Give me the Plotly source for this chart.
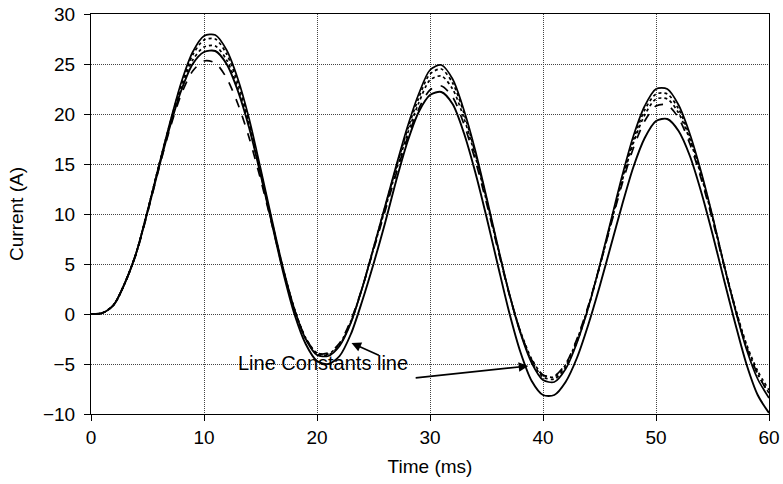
import plotly.graph_objects as go

# Time axis (ms), sampled every 1 ms
time_ms = list(range(0, 61))

# Measured / simulated current waveforms (A)
solid_outer = [0, 0.1, 0.9, 3.1, 6.1, 10.3, 14.8, 19.2, 23.2, 26.2,
               27.8, 27.9, 26.4, 23.5, 19.5, 14.6, 9.5, 4.6, 0.5, -2.5,
               -4.1, -4.2, -3.2, -0.9, 2.6, 6.6, 10.7, 14.8, 18.7, 22.0,
               24.4, 24.9, 23.5, 20.4, 16.4, 11.7, 6.8, 2.1, -1.9, -4.9,
               -6.6, -6.8, -5.5, -2.9, 0.6, 4.8, 9.3, 13.8, 17.8, 20.8,
               22.5, 22.5, 20.9, 18.0, 14.2, 9.8, 5.0, 0.5, -3.5, -6.5,
               -8.4]

dotted_a = [0, 0.1, 0.9, 3.1, 6.1, 10.3, 14.8, 19.1, 23.0, 25.9,
            27.4, 27.5, 26.0, 23.1, 19.1, 14.3, 9.3, 4.5, 0.5, -2.5,
            -4.0, -4.1, -3.1, -0.8, 2.6, 6.6, 10.6, 14.6, 18.4, 21.6,
            24.0, 24.5, 23.1, 20.1, 16.1, 11.5, 6.7, 2.1, -1.8, -4.7,
            -6.3, -6.5, -5.3, -2.8, 0.6, 4.7, 9.1, 13.5, 17.4, 20.4,
            22.0, 22.0, 20.5, 17.7, 14.0, 9.7, 5.0, 0.6, -3.2, -6.0,
            -7.9]

dotted_b = [0, 0.1, 0.9, 3.1, 6.1, 10.3, 14.8, 19.0, 22.7, 25.4,
            26.7, 26.8, 25.4, 22.6, 18.8, 14.1, 9.2, 4.5, 0.5, -2.4,
            -3.9, -4.0, -3.0, -0.7, 2.6, 6.5, 10.4, 14.3, 18.0, 21.1,
            23.4, 23.8, 22.5, 19.6, 15.8, 11.3, 6.6, 2.1, -1.7, -4.5,
            -6.1, -6.3, -5.1, -2.6, 0.7, 4.7, 9.0, 13.3, 17.1, 19.9,
            21.5, 21.5, 20.1, 17.4, 13.8, 9.6, 5.0, 0.7, -3.0, -5.7,
            -7.6]

dashed = [0, 0.1, 0.9, 3.1, 6.0, 10.1, 14.5, 18.6, 22.0, 24.3,
          25.3, 25.1, 23.6, 21.0, 17.6, 13.5, 9.0, 4.4, 0.4, -2.4,
          -3.9, -3.9, -2.9, -0.6, 2.6, 6.4, 10.2, 14.0, 17.6, 20.5,
          22.4, 22.8, 21.7, 19.0, 15.4, 11.1, 6.5, 2.0, -1.8, -4.6,
          -6.1, -6.2, -5.0, -2.5, 0.8, 4.7, 8.9, 13.0, 16.6, 19.3,
          20.8, 20.9, 19.6, 17.0, 13.5, 9.4, 4.9, 0.6, -3.3, -6.0,
          -8.0]

line_constants = [0, 0.1, 0.9, 3.1, 6.1, 10.2, 14.6, 18.8, 22.4, 25.0,
                  26.2, 26.3, 25.0, 22.3, 18.6, 14.0, 9.1, 4.2, 0.0, -3.0,
                  -4.7, -5.0, -4.2, -2.0, 1.3, 5.0, 9.0, 13.3, 17.2, 20.2,
                  21.9, 22.2, 21.0, 18.1, 14.2, 9.7, 4.9, 0.2, -3.8, -6.7,
                  -8.1, -8.1, -6.8, -4.4, -1.1, 2.7, 6.8, 10.9, 14.7, 17.6,
                  19.3, 19.5, 18.3, 15.8, 12.2, 8.0, 3.5, -0.9, -5.0, -8.1,
                  -9.9]

x_ticks = [0, 10, 20, 30, 40, 50, 60]
y_ticks = [-10, -5, 0, 5, 10, 15, 20, 25, 30]

series = [
    ("solid", solid_outer, "solid", 1.7),
    ("dotted a", dotted_a, "dot", 1.7),
    ("dotted b", dotted_b, "dot", 1.7),
    ("dashed", dashed, "dash", 1.7),
    ("Line Constants line", line_constants, "solid", 1.9),
]

fig = go.Figure()
for name, vals, dash, w in series:
    fig.add_trace(go.Scatter(
        x=time_ms, y=vals, mode="lines", name=name,
        line=dict(color="black", width=w, dash=dash, shape="spline", smoothing=0.8),
        showlegend=False,
    ))

font = dict(family="Liberation Sans, Arial, sans-serif", size=19, color="black")

axis_common = dict(
    ticks="outside", ticklen=6, tickcolor="black",
    showline=True, linecolor="black", linewidth=1, mirror=True,
    showgrid=True, gridcolor="#444444", griddash="1px,1px", gridwidth=1,
    zeroline=False, automargin=False, tickfont=dict(size=19),
)

fig.update_layout(
    width=783, height=484,
    margin=dict(l=91, r=14, t=14, b=70),
    paper_bgcolor="white", plot_bgcolor="white",
    font=font,
    xaxis=dict(range=[0, 60], tickvals=x_ticks,
               title=dict(text="Time (ms)", font=dict(size=19), standoff=12),
               **axis_common),
    yaxis=dict(range=[-10, 30], tickvals=y_ticks, ticklabelstandoff=5,
               title=dict(text="Current (A)", font=dict(size=19), standoff=14),
               **axis_common),
)

# Label and arrows pointing at the Line Constants curve
fig.add_annotation(x=20.5, y=-4.9, xref="x", yref="y", text="Line Constants line",
                   showarrow=False, font=dict(size=20), yanchor="middle")
fig.add_annotation(x=23.05, y=-2.9, ax=25.6, ay=-4.2, xref="x", yref="y",
                   axref="x", ayref="y", text="", showarrow=True,
                   arrowhead=2, arrowsize=1.2, arrowwidth=1.6, arrowcolor="black")
fig.add_annotation(x=38.7, y=-5.2, ax=28.6, ay=-6.4, xref="x", yref="y",
                   axref="x", ayref="y", text="", showarrow=True,
                   arrowhead=2, arrowsize=1.2, arrowwidth=1.6, arrowcolor="black")

fig.write_html("out.html")
